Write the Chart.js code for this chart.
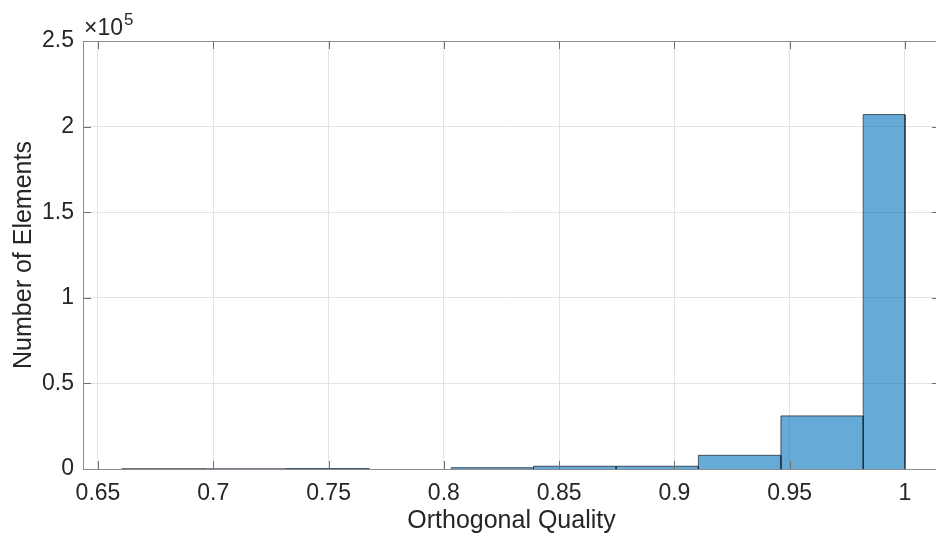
<!DOCTYPE html>
<html>
<head>
<meta charset="utf-8">
<script src="https://cdn.jsdelivr.net/npm/chart.js@4"></script>
<style>
  html, body { margin: 0; padding: 0; background: #fff; overflow: hidden; }
  #wrap { width: 940px; height: 540px; }
</style>
</head>
<body>
<div id="wrap"><canvas id="histChart" width="940" height="540"></canvas></div>
<script>
// histogram bins (orthogonal quality)
const binEdges = [0.6603, 0.6960, 0.7318, 0.7675, 0.8032, 0.8389, 0.8747, 0.9104, 0.9462, 0.9819, 1.0];
const binCounts = [150, 100, 250, 0, 750, 1600, 1600, 8000, 31000, 207000];

const xTicks = [0.65, 0.7, 0.75, 0.8, 0.85, 0.9, 0.95, 1];
const xTickLabels = ["0.65", "0.7", "0.75", "0.8", "0.85", "0.9", "0.95", "1"];
const yTicks = [0, 50000, 100000, 150000, 200000, 250000];
const yTickLabels = ["0", "0.5", "1", "1.5", "2", "2.5"];

const FONT = "Helvetica, 'Liberation Sans', Arial, sans-serif";
const TEXT = "#262626";
const FACE = "rgba(0, 114, 189, 0.6)";
const EDGE = "#1f2d38";

// one closed outline per bin so the dividers go down to zero
const datasets = [];
binCounts.forEach((c, i) => {
  if (c === 0) return;
  const x0 = binEdges[i], x1 = binEdges[i + 1];
  datasets.push({
    data: [{ x: x0, y: 0 }, { x: x0, y: c }, { x: x1, y: c }, { x: x1, y: 0 }],
    borderColor: EDGE,
    borderWidth: 0.8,
    backgroundColor: FACE,
    fill: "origin",
    pointRadius: 0,
    tension: 0,
  });
});

// box, inward ticks and the x10^5 multiplier
const matlabAxes = {
  id: "matlabAxes",
  afterDatasetsDraw(chart) {
    const { ctx, chartArea: a, scales: { x, y } } = chart;
    ctx.save();
    ctx.strokeStyle = "#6e6e6e";
    ctx.lineWidth = 1;
    ctx.beginPath();
    xTicks.forEach((v) => {
      const px = Math.round(x.getPixelForValue(v)) + 0.5;
      ctx.moveTo(px, a.bottom);
      ctx.lineTo(px, a.bottom - 8);
      ctx.moveTo(px, a.top);
      ctx.lineTo(px, a.top + 8);
    });
    yTicks.forEach((v) => {
      const py = Math.round(y.getPixelForValue(v)) + 0.5;
      ctx.moveTo(a.left, py);
      ctx.lineTo(a.left + 8, py);
      ctx.moveTo(a.right, py);
      ctx.lineTo(a.right - 8, py);
    });
    ctx.stroke();
    ctx.strokeStyle = "#8c8c8c";
    ctx.beginPath();
    ctx.moveTo(a.left + 0.5, a.bottom + 0.5);
    ctx.lineTo(a.left + 0.5, a.top + 0.5);
    ctx.lineTo(a.right, a.top + 0.5);
    ctx.moveTo(a.left, a.bottom + 0.5);
    ctx.lineTo(a.right, a.bottom + 0.5);
    ctx.stroke();

    ctx.fillStyle = TEXT;
    ctx.textBaseline = "alphabetic";
    ctx.textAlign = "left";
    ctx.font = "23px " + FONT;
    ctx.fillText("\u00d710", a.left + 1, 35);
    const w = ctx.measureText("\u00d710").width;
    ctx.font = "17px " + FONT;
    ctx.fillText("5", a.left + 1 + w + 1, 25);
    ctx.restore();
  },
};

new Chart(document.getElementById("histChart"), {
  type: "line",
  data: { datasets },
  plugins: [matlabAxes],
  options: {
    responsive: false,
    animation: false,
    layout: { padding: { top: 41, left: 0, right: 0, bottom: 0 } },
    plugins: { legend: { display: false }, tooltip: { enabled: false } },
    scales: {
      x: {
        type: "linear",
        min: 0.6435,
        max: 1.0152,
        afterFit: (s) => { s.height = 71; },
        afterBuildTicks: (s) => { s.ticks = xTicks.map((v) => ({ value: v })); },
        grid: { color: "#e3e3e3", drawTicks: false },
        border: { display: false },
        ticks: {
          color: TEXT,
          font: { family: FONT, size: 23 },
          padding: 11,
          maxRotation: 0,
          callback: (v) => xTickLabels[xTicks.indexOf(+v.toFixed(2))],
        },
        title: {
          display: true,
          text: "Orthogonal Quality",
          color: TEXT,
          font: { family: FONT, size: 25 },
          padding: { top: 4, bottom: 4 },
        },
      },
      y: {
        min: 0,
        max: 250000,
        afterFit: (s) => { s.width = 83; },
        afterBuildTicks: (s) => { s.ticks = yTicks.map((v) => ({ value: v })); },
        grid: { color: "#e3e3e3", drawTicks: false },
        border: { display: false },
        ticks: {
          color: TEXT,
          font: { family: FONT, size: 23 },
          padding: 9,
          callback: (v) => yTickLabels[yTicks.indexOf(v)],
        },
        title: {
          display: true,
          text: "Number of Elements",
          color: TEXT,
          font: { family: FONT, size: 25 },
          padding: { top: 9, bottom: 9 },
        },
      },
    },
  },
});
</script>
</body>
</html>
